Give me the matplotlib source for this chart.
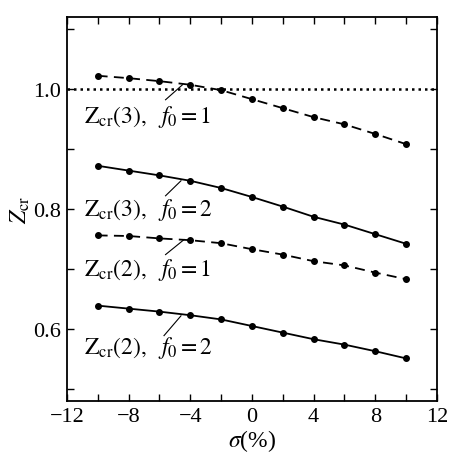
import matplotlib
matplotlib.use("Agg")
import matplotlib.pyplot as plt
from matplotlib.ticker import MultipleLocator

plt.rcParams.update({
    "font.family": "Liberation Serif",
    "mathtext.fontset": "stix",
    "xtick.direction": "in",
    "ytick.direction": "in",
    "xtick.top": True,
    "ytick.right": True,
})

sigma = [-10, -8, -6, -4, -2, 0, 2, 4, 6, 8, 10]
z3_f1 = [1.022, 1.018, 1.013, 1.007, 0.998, 0.983, 0.968, 0.953, 0.941, 0.925, 0.908]
z3_f2 = [0.872, 0.864, 0.856, 0.847, 0.835, 0.820, 0.804, 0.787, 0.774, 0.758, 0.742]
z2_f1 = [0.756, 0.755, 0.751, 0.748, 0.743, 0.733, 0.724, 0.713, 0.706, 0.694, 0.683]
z2_f2 = [0.639, 0.634, 0.629, 0.623, 0.616, 0.605, 0.594, 0.583, 0.574, 0.563, 0.551]

# label text, text anchor (x, y centre), leader line start -> end
labels = [
    (r"$\mathrm{Z_{cr}}(3),\ \ f_0=1$", (-10.9, 0.955), (-5.6, 0.982), (-4.5, 1.007)),
    (r"$\mathrm{Z_{cr}}(3),\ \ f_0=2$", (-10.9, 0.800), (-5.6, 0.822), (-4.6, 0.847)),
    (r"$\mathrm{Z_{cr}}(2),\ \ f_0=1$", (-10.9, 0.700), (-5.6, 0.724), (-4.4, 0.749)),
    (r"$\mathrm{Z_{cr}}(2),\ \ f_0=2$", (-10.9, 0.570), (-5.7, 0.589), (-4.6, 0.622)),
]

fig = plt.figure(figsize=(4.74, 4.60), dpi=100)
ax = fig.add_axes([0.141, 0.126, 0.781, 0.835])

ax.axhline(1.0, color="black", ls=(0, (1, 1.6)), lw=1.8, zorder=1)

style = dict(color="black", marker="o", markersize=4, lw=1.3, zorder=3)
ax.plot(sigma, z3_f1, ls=(0, (5.5, 3.5)), **style)
ax.plot(sigma, z3_f2, ls="-", **style)
ax.plot(sigma, z2_f1, ls=(0, (5.5, 3.5)), **style)
ax.plot(sigma, z2_f2, ls="-", **style)

for text, (tx, ty), (x0, y0), (x1, y1) in labels:
    ax.text(tx, ty, text, fontsize=17, ha="left", va="center")
    ax.plot([x0, x1], [y0, y1], color="black", lw=0.8, zorder=2)

ax.set_xlim(-12, 12)
ax.set_ylim(0.48, 1.12)
ax.xaxis.set_minor_locator(MultipleLocator(2))
ax.yaxis.set_minor_locator(MultipleLocator(0.1))
ax.set_xticks([-12, -8, -4, 0, 4, 8, 12])
ax.set_xticklabels(["\u221212", "\u22128", "\u22124", "0", "4", "8", "12"])
ax.set_yticks([0.6, 0.8, 1.0])
ax.set_yticklabels(["0.6", "0.8", "1.0"])
ax.tick_params(which="both", length=5, width=1.0, labelsize=16, pad=4)
for s in ax.spines.values():
    s.set_linewidth(1.3)

ax.set_xlabel(r"$\sigma$(%)", fontsize=17, labelpad=1)
ax.set_ylabel(r"$Z_{\rm cr}$", fontsize=17, labelpad=1)

fig.savefig("out.png", dpi=100)
